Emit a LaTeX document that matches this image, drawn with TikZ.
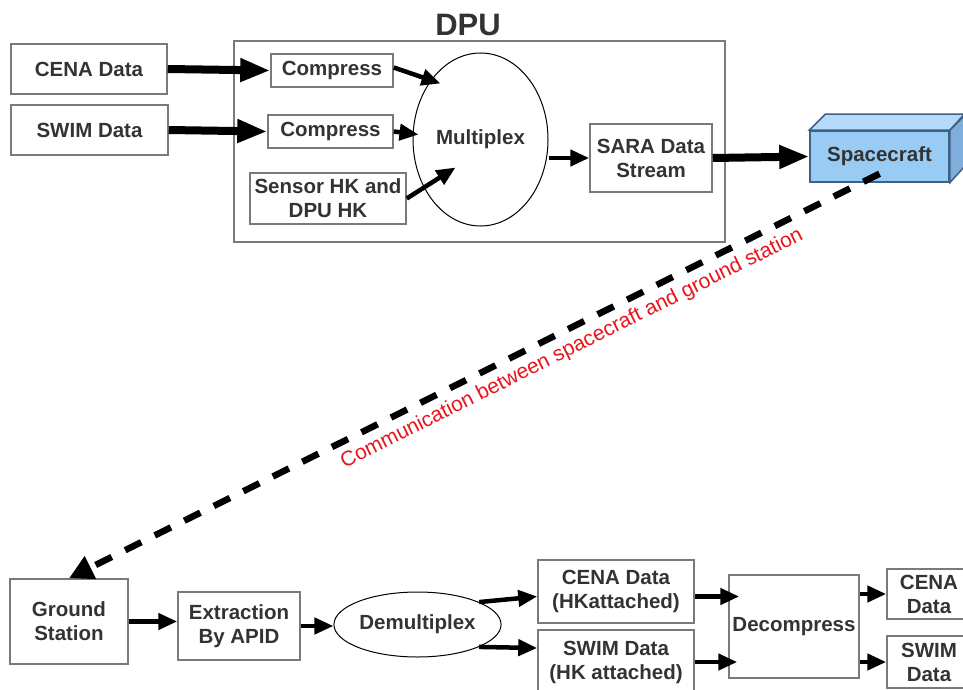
\documentclass[tikz,border=0pt]{standalone}
\usepackage{fontspec}
\setmainfont{Liberation Sans}
\usetikzlibrary{positioning}
\usetikzlibrary{shapes.geometric}
\usetikzlibrary{arrows.meta}
\definecolor{boxgray}{HTML}{7A7A7A}
\definecolor{textgray}{HTML}{333333}
\definecolor{craftfront}{HTML}{99CCF5}
\definecolor{crafttop}{HTML}{B5DAFA}
\definecolor{craftside}{HTML}{7FAEDC}
\definecolor{craftedge}{HTML}{3E5F86}
\definecolor{commred}{HTML}{E8141C}

\begin{document}
\begin{tikzpicture}
    [
      x = 1pt, y = -1pt,
      box/.style = {draw = boxgray, line width = 1.5pt, text = textgray, align = center,
          inner sep = 1pt, font = \bfseries\fontsize{20.5}{24}\selectfont},
      oval/.style = {box, ellipse, draw = black, line width = 1pt},
      thick arrow/.style = {line width = 8pt, -{Triangle[length=30pt,width=22pt]}},
      thin arrow/.style = {line width = 4.5pt, -{Triangle[length=19pt,width=16pt]}},
      comm/.style = {line width = 6.5pt, dash pattern = on 18pt off 15pt,
          -{Triangle[length=24pt,width=24pt]}},
    ]
    \useasboundingbox (0,0) rectangle (963,690);

    % DPU side
    \node[box, minimum width = 491pt, minimum height = 201pt] (dpu) at (479.5,141.5) {};
    \node[text = textgray, font = \bfseries\fontsize{31}{34}\selectfont] (dputitle) at (468,25) {DPU};

    \node[box, minimum width = 156pt, minimum height = 50pt] (cena) at (89,69) {CENA Data};
    \node[box, minimum width = 157pt, minimum height = 50pt] (swim) at (89.5,130) {SWIM Data};
    \node[box, minimum width = 122pt, minimum height = 33pt] (compa) at (332,70.5) {Compress};
    \node[box, minimum width = 125pt, minimum height = 33pt] (compb) at (330.5,131.5) {Compress};
    \node[box, minimum width = 156pt, minimum height = 51pt] (hk) at (328,198.5) {Sensor HK and\\DPU HK};
    \node[oval, minimum width = 135pt, minimum height = 173pt] (mux) at (480.5,139.5) {Multiplex};
    \node[box, minimum width = 122pt, minimum height = 68pt] (sara) at (651,158) {SARA Data\\Stream};

    \coordinate (muxa) at ([shift={(-40,-56)}]mux.center);
    \coordinate (muxb) at ([shift={(-62,-5)}]mux.center);
    \coordinate (muxc) at ([shift={(-25,28)}]mux.center);

    \draw[thick arrow] (cena.east) -- (compa.west);
    \draw[thick arrow] (swim.east) -- (compb.west);
    \draw[thin arrow] ([yshift=3pt]compa.east) -- (muxa);
    \draw[thin arrow] (compb.east) -- (muxb);
    \draw[thin arrow] (hk.east) -- (muxc);
    \draw[thin arrow] (mux.east |- sara.west) -- (sara.west);

    % spacecraft
    \node[box, fill = craftfront, draw = craftedge, minimum width = 139pt, minimum height = 51pt] (sc) at (879.5,156.5) {Spacecraft};
    \filldraw[fill = crafttop, draw = craftedge, line width = 1.5pt]
      (sc.north west) -- ++(16,-16) -- ++(139,0) -- (sc.north east) -- cycle;
    \filldraw[fill = craftside, draw = craftedge, line width = 1.5pt]
      (sc.north east) -- ++(16,-16) -- ++(0,51) -- (sc.south east) -- cycle;
    \draw[thick arrow] (sara.east) -- (sc.west);

    % ground side
    \node[box, minimum width = 118pt, minimum height = 85pt] (gs) at (69,621.5) {Ground\\Station};
    \node[box, minimum width = 122pt, minimum height = 68pt] (apid) at (239,626) {Extraction\\By APID};
    \node[oval, minimum width = 139pt, minimum height = 65pt] (demux) at (417.5,624.5) {Demultiplex};
    \node[box, minimum width = 156pt, minimum height = 63pt] (cenahk) at (616,591.5) {CENA Data\\(HKattached)};
    \node[box, minimum width = 156pt, minimum height = 64pt] (swimhk) at (616,662) {SWIM Data\\(HK attached)};
    \node[box, minimum width = 130pt, minimum height = 103pt] (dec) at (794,626.5) {Decompress};
    \node[box, minimum width = 84pt, minimum height = 50pt] (cenaout) at (929,594) {CENA\\Data};
    \node[box, minimum width = 84pt, minimum height = 52pt] (swimout) at (929,662) {SWIM\\Data};

    \draw[comm] ([yshift=9pt]sc.south) -- (gs.north)
      node[pos = 0.39, sloped, below = 3pt, text = commred, font = \fontsize{21}{24}\selectfont] (commlabel)
      {Communication between spacecraft and ground station};

    \draw[thin arrow] (gs.east) -- (gs.east -| apid.west);
    \draw[thin arrow] (apid.east) -- (apid.east -| demux.west);
    \draw[thin arrow] (demux.20) -- ([yshift=-5pt]cenahk.west);
    \draw[thin arrow] (demux.-20) -- ([yshift=14pt]swimhk.west);
    \draw[thin arrow] ([yshift=-5pt]cenahk.east) -- ([shift={(11pt,-5pt)}]cenahk.east -| dec.west);
    \draw[thin arrow] (swimhk.east) -- ([xshift=9pt]swimhk.east -| dec.west);
    \draw[thin arrow] (dec.east |- cenaout.west) -- (cenaout.west);
    \draw[thin arrow] (dec.east |- swimout.west) -- (swimout.west);

  \end{tikzpicture}
\end{document}
